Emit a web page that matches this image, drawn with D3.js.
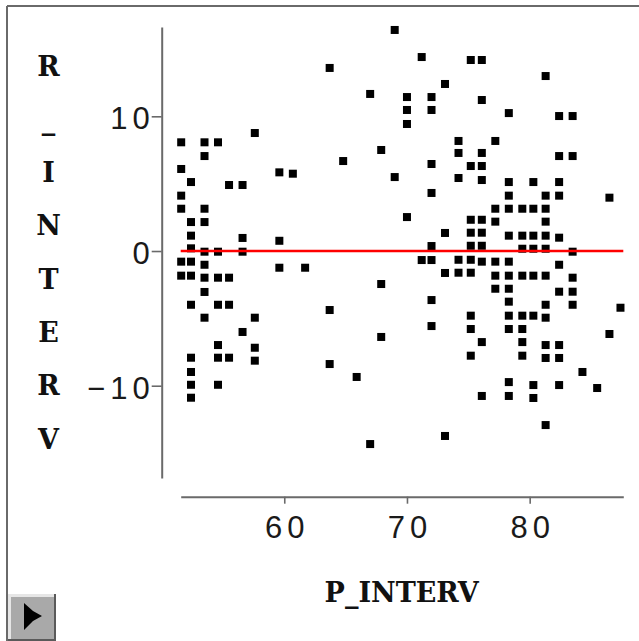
<!DOCTYPE html>
<html>
<head>
<meta charset="utf-8">
<script src="https://cdn.jsdelivr.net/npm/d3@7/dist/d3.min.js"></script>
<style>
  html, body { margin: 0; padding: 0; background: #fff; overflow: hidden; }
  svg { display: block; }
</style>
</head>
<body>
<svg id="chart" width="639" height="641"></svg>
<script>
// ---- data ----
const xTitle = "P_INTERV";
const yTitle = "R_INTERV";
const xTicks = [60, 70, 80];
const yTicks = [-10, 0, 10];
const xExtent = [51.56, 87.63];
const yExtent = [-16.85, 16.63];
const meanResidual = 0;

// P_INTERV values (columns of points)
const pInterv = [51.6, 52.4, 53.5, 54.6, 55.5, 56.6, 57.6, 59.6, 60.7, 61.7,
  63.7, 64.8, 65.9, 67.0, 67.9, 69.0, 70.0, 71.2, 72.0, 73.1, 74.2, 75.2,
  76.1, 77.2, 78.3, 79.4, 80.3, 81.3, 82.4, 83.5, 84.3, 85.5, 86.5, 87.4];

// R_INTERV values for each P_INTERV column
const rInterv = [
  [8.07, 6.09, 4.11, 3.14, -0.79, -1.83],
  [5.12, 2.15, 1.14, 0.20, -0.79, -1.83, -3.99, -7.92, -8.98, -9.93, -10.89],
  [8.07, 7.05, 3.14, 2.15, -0.05, -1.02, -1.98, -3.04, -4.95],
  [8.07, -0.05, -1.98, -3.99, -6.98, -7.92, -9.93],
  [4.90, -1.98, -3.99, -7.92],
  [4.90, 0.97, -0.05, -6.01],
  [8.76, -4.95, -7.18, -8.14],
  [5.84, 0.76, -1.24],
  [5.74],
  [-1.24],
  [13.59, -4.38, -8.39],
  [6.68],
  [-9.35],
  [11.66, -14.33],
  [7.50, -2.45, -6.38],
  [16.41, 5.49],
  [11.43, 10.47, 9.43, 2.52],
  [14.40, -0.67],
  [11.43, 10.47, 6.46, 4.31, 0.37, -0.67, -3.64, -5.57],
  [12.40, 1.34, -1.63, -13.73],
  [8.17, 7.28, 5.42, -0.65, -1.61],
  [14.18, 6.31, 2.32, 1.36, 0.39, -0.65, -1.61, -4.80, -5.79, -7.77],
  [14.18, 11.21, 7.28, 6.31, 5.27, 2.32, 1.36, 0.39, -0.79, -6.76, -10.76],
  [8.17, 3.14, 2.18, -0.79, -1.83, -2.80],
  [10.24, 5.12, 4.11, 3.14, 1.14, -0.79, -1.83, -2.80, -3.76, -4.80, -5.79, -9.73, -10.76],
  [3.14, 1.14, 0.17, -1.83, -4.80, -5.79, -6.76, -7.77],
  [5.12, 3.14, 1.14, 0.17, -1.83, -4.80, -9.95, -10.91],
  [12.99, 4.11, 3.14, 2.18, 1.14, 0.17, -1.83, -3.99, -4.95, -6.98, -7.94, -12.92],
  [10.02, 7.05, 5.12, 4.11, 0.99, -1.02, -3.02, -6.98, -7.94, -9.95],
  [10.02, 7.05, -0.05, -1.98, -3.02, -3.99],
  [-8.98],
  [-10.17],
  [3.96, -6.16],
  [-4.21]
];

// ---- drawing ----
const points = pInterv.flatMap((px, i) => rInterv[i].map(r => ({ p: px, r: r })));

const svg = d3.select("#chart");
const axisColor = "#6a6a6a";

const x = d3.scaleLinear().domain(xExtent).range([180.7, 623.3]);
const y = d3.scaleLinear().domain(yExtent).range([478, 27]);

// outer frame (left and top edges)
svg.append("line").attr("x1", 7).attr("y1", 6).attr("x2", 639).attr("y2", 6)
  .attr("stroke", axisColor).attr("stroke-width", 2);
svg.append("line").attr("x1", 7).attr("y1", 6).attr("x2", 7).attr("y2", 641)
  .attr("stroke", axisColor).attr("stroke-width", 2);

// x axis
const gx = svg.append("g").attr("transform", "translate(0,496.7)")
  .call(d3.axisBottom(x).tickValues(xTicks).tickSize(7).tickSizeOuter(0));
// y axis
const gy = svg.append("g").attr("transform", "translate(161.7,0)")
  .call(d3.axisLeft(y).tickValues(yTicks).tickSize(10).tickSizeOuter(0));

[gx, gy].forEach(g => {
  g.select(".domain").attr("stroke", axisColor).attr("stroke-width", 2);
  g.selectAll(".tick line").attr("stroke", axisColor).attr("stroke-width", 1.6);
  g.selectAll(".tick text")
    .attr("fill", "#1a1a1a")
    .style("font-family", "'Liberation Sans', Arial, sans-serif")
    .style("font-size", "31px")
    .style("letter-spacing", "5px");
});
gx.selectAll(".tick text").attr("y", 41.6).attr("dy", 0).attr("dx", 2.5);
gy.selectAll(".tick text").attr("x", -7).attr("dy", 0).attr("y", 12.5);

// points
svg.append("g").selectAll("rect").data(points).join("rect")
  .attr("x", d => x(d.p) - 4)
  .attr("y", d => y(d.r) - 4)
  .attr("width", 8).attr("height", 8)
  .attr("fill", "#000");

// mean residual line
svg.append("line")
  .attr("x1", x(xExtent[0])).attr("x2", x(xExtent[1]))
  .attr("y1", y(meanResidual)).attr("y2", y(meanResidual))
  .attr("stroke", "#ff0000").attr("stroke-width", 2.6);

// titles
const titleFont = "'DejaVu Serif', serif";
svg.append("text").attr("x", 401.7).attr("y", 601.7)
  .attr("text-anchor", "middle")
  .style("font-family", titleFont).style("font-weight", "bold")
  .style("font-size", "27px").attr("fill", "#111")
  .text(xTitle);

svg.append("g").selectAll("text").data(yTitle.split("")).join("text")
  .attr("x", 48.5)
  .attr("y", (d, i) => 75.5 + i * 53.3)
  .attr("text-anchor", "middle")
  .style("font-family", titleFont).style("font-weight", "bold")
  .style("font-size", "27px").attr("fill", "#111")
  .text(d => d);

// small play button at bottom-left
const btn = svg.append("g");
btn.append("rect").attr("x", 8).attr("y", 594).attr("width", 48).attr("height", 47).attr("fill", "#5a5a5a");
btn.append("rect").attr("x", 8).attr("y", 594).attr("width", 46).attr("height", 45).attr("fill", "#e6e6e6");
btn.append("rect").attr("x", 11).attr("y", 597).attr("width", 43).attr("height", 42).attr("fill", "#a9a9a9");
btn.append("polygon").attr("points", "24,603 33,611 42,616 33,621 24,630").attr("fill", "#000");
</script>
</body>
</html>
